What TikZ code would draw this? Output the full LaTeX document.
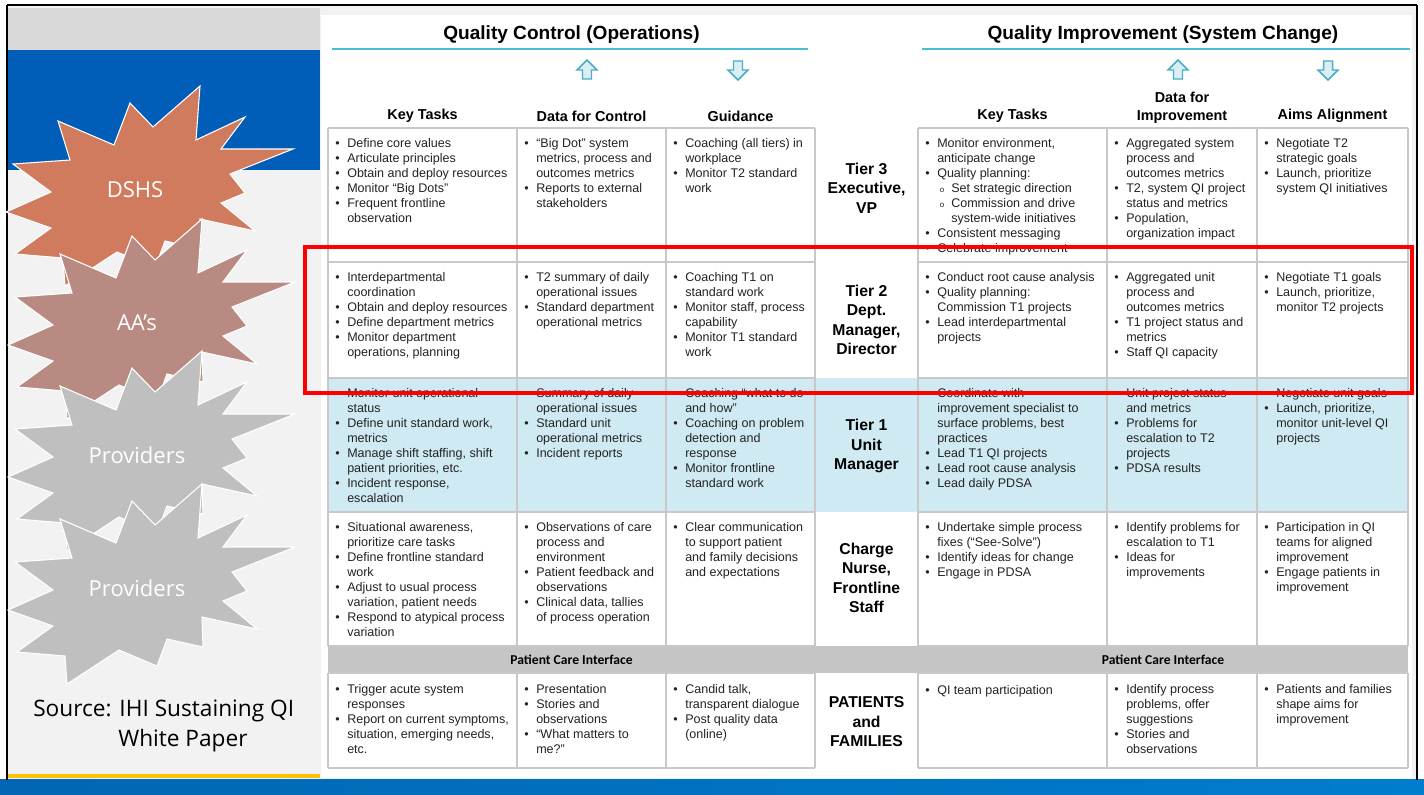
\documentclass[tikz,border=0pt]{standalone}
\usepackage{fontspec}
\setmainfont{Liberation Sans}
\newfontfamily\osans{Open Sans}
\newfontfamily\carl{Carlito}
\definecolor{dshs}{RGB}{208,123,93}
\definecolor{aas}{RGB}{185,138,130}
\definecolor{prov}{RGB}{191,191,191}
\definecolor{slideblue}{RGB}{0,94,184}
\definecolor{gridgray}{RGB}{200,200,200}
\definecolor{rowblue}{RGB}{207,234,242}
\definecolor{bandgray}{RGB}{197,197,197}
\definecolor{lineblue}{RGB}{75,190,215}
\definecolor{arrowfill}{RGB}{219,238,244}
\definecolor{arrowline}{RGB}{75,172,198}
\definecolor{panelgray}{RGB}{242,242,242}
\definecolor{stripgray}{RGB}{217,217,217}
\definecolor{txtgray}{RGB}{35,35,35}
\definecolor{goldline}{RGB}{255,192,0}
\definecolor{bandA}{RGB}{0,102,180}
\definecolor{bandB}{RGB}{0,125,205}
\newcommand\bul{\makebox[9pt][l]{\textbullet}}
\newcommand\cnt{\hspace*{9pt}}
\newcommand\sbul{\hspace*{9pt}\makebox[10.5pt][l]{\hspace{2pt}\fontsize{6}{6}\selectfont o}}
\newcommand\scnt{\hspace*{19.5pt}}
\tikzset{
  cell/.style={anchor=north west, inner sep=0pt, align=left, font=\fontsize{9.4}{11.25}\selectfont, text=txtgray, execute at begin node=\strut},
  lbl/.style={align=center, inner sep=0pt, font=\fontsize{11.8}{14.6}\selectfont\bfseries, text=black},
  hdr/.style={align=center, inner sep=0pt, font=\fontsize{10.8}{13.2}\selectfont\bfseries, text=black},
  ttl/.style={inner sep=0pt, font=\fontsize{14.3}{16}\selectfont\bfseries, text=black},
  pci/.style={inner sep=0pt, font=\carl\fontsize{10.2}{12}\selectfont\bfseries, text=black},
  grid/.style={draw=gridgray, line width=1.1pt},
  burstlbl/.style={inner sep=0pt, font=\osans\fontsize{16.5}{19}\selectfont, text=white},
  pics/burst/.style={code={
    \filldraw[fill=#1, draw=white, line width=0.8pt]
      (-122,-26) -- (-65,-30) -- (-77,-69) -- (-21,-45) -- (-5,-87) -- (18,-63)
      -- (65,-104) -- (61,-50) -- (110,-73) -- (86,-41) -- (158,-41) -- (95,-16)
      -- (110,3) -- (86,13) -- (120,41) -- (65,29) -- (66,59) -- (30,51)
      -- (20,78) -- (-18,62) -- (-70,96) -- (-72,68) -- (-120,64) -- (-84,38)
      -- (-129,22) -- (-84,2) -- cycle;}},
  pics/uparrow/.style={code={
    \filldraw[fill=arrowfill, draw=arrowline, line width=1.1pt, line join=miter]
      (0,-10) -- (10,0) -- (4.5,0) -- (4.5,9) -- (-4.5,9) -- (-4.5,0) -- (-10,0) -- cycle;}},
  pics/downarrow/.style={code={
    \filldraw[fill=arrowfill, draw=arrowline, line width=1.1pt, line join=miter]
      (0,10) -- (10,0) -- (4.5,0) -- (4.5,-9) -- (-4.5,-9) -- (-4.5,0) -- (-10,0) -- cycle;}}
}
\begin{document}
\begin{tikzpicture}[x=0.75pt,y=-0.75pt]
\useasboundingbox (0,0) rectangle (1424,795);
% backgrounds
\fill[white] (0,0) rectangle (1424,795);
\fill[panelgray] (7,5) rectangle (1417,780);
\fill[stripgray] (7,8) rectangle (320,50);
\fill[slideblue] (7,50) rectangle (320,170);
\fill[goldline] (7,774) rectangle (320,778);
\fill[white] (321,15) rectangle (1412,778);
\shade[left color=bandA, right color=bandB] (0,779) rectangle (1424,795);
\draw[black, line width=0.8pt] (7,5) -- (7,780) (1417,5) -- (1417,780) (7,5) -- (1417,5);

% starbursts
\pic at (135,190) {burst=dshs};
\node[burstlbl] (dshs) at (135,190) {DSHS};
\pic at (137,323) {burst=aas};
\node[burstlbl] (aas) at (137,323) {AA’s};
\pic at (137,455) {burst=prov};
\node[burstlbl] (prova) at (137,455) {Providers};
\pic at (137,588) {burst=prov};
\node[burstlbl] (provb) at (137,588) {Providers};
\node[anchor=base west, inner sep=0pt, font=\osans\fontsize{17}{20}\selectfont] (srca) at (33,716) {Source: IHI Sustaining QI};
\node[anchor=base west, inner sep=0pt, font=\osans\fontsize{17}{20}\selectfont] (srcb) at (118,746) {White Paper};

% titles
\node[ttl] (qc) at (571.5,35) {Quality Control (Operations)};
\node[ttl] (qi) at (1163,35) {Quality Improvement (System Change)};
\draw[lineblue, line width=1.5pt] (332,49) -- (808,49);
\draw[lineblue, line width=1.5pt] (922,49) -- (1410,49);
\pic at (587,70) {uparrow};
\pic at (738,70) {downarrow};
\pic at (1178,70) {uparrow};
\pic at (1328,70) {downarrow};

% column headers
\node[hdr] (hkt) at (422.5,116) {Key Tasks};
\node[hdr] (hdc) at (591.5,116) {Data for Control};
\node[hdr] (hg) at (740.5,116) {Guidance};
\node[hdr] (hkt2) at (1012.5,116) {Key Tasks};
\node[hdr] (hdi) at (1182,107.5) {Data for\\Improvement};
\node[hdr] (haa) at (1332.5,116) {Aims Alignment};

% fills
\fill[rowblue] (328,378) rectangle (1408,512);
\fill[bandgray] (328,646) rectangle (1408,673);

% grid
\foreach \y in {128,262,378,512,646,673,768}{
  \draw[grid] (328,\y) -- (815,\y);
  \draw[grid] (918,\y) -- (1408,\y);
}
\foreach \x in {328,517,666,815,918,1107,1257,1408}{
  \draw[grid] (\x,128) -- (\x,646);
  \draw[grid] (\x,673) -- (\x,768);
}

% Tier 3
\node[cell] (t3a) at (335,138.5) {\bul Define core values\\\bul Articulate principles\\\bul Obtain and deploy resources\\\bul Monitor “Big Dots”\\\bul Frequent frontline\\\cnt observation};
\node[cell] (t3b) at (524,138.5) {\bul “Big Dot” system\\\cnt metrics, process and\\\cnt outcomes metrics\\\bul Reports to external\\\cnt stakeholders};
\node[cell] (t3c) at (673,138.5) {\bul Coaching (all tiers) in\\\cnt workplace\\\bul Monitor T2 standard\\\cnt work};
\node[lbl] (t3l) at (866.5,188) {Tier 3\\Executive,\\VP};
\node[cell] (t3d) at (925,138.5) {\bul Monitor environment,\\\cnt anticipate change\\\bul Quality planning:\\\sbul Set strategic direction\\\sbul Commission and drive\\\scnt system-wide initiatives\\\bul Consistent messaging\\\bul Celebrate improvement};
\node[cell] (t3e) at (1114,138.5) {\bul Aggregated system\\\cnt process and\\\cnt outcomes metrics\\\bul T2, system QI project\\\cnt status and metrics\\\bul Population,\\\cnt organization impact};
\node[cell] (t3f) at (1264,138.5) {\bul Negotiate T2\\\cnt strategic goals\\\bul Launch, prioritize\\\cnt system QI initiatives};

% Tier 2
\node[cell] (t2a) at (335,272.5) {\bul Interdepartmental\\\cnt coordination\\\bul Obtain and deploy resources\\\bul Define department metrics\\\bul Monitor department\\\cnt operations, planning};
\node[cell] (t2b) at (524,272.5) {\bul T2 summary of daily\\\cnt operational issues\\\bul Standard department\\\cnt operational metrics};
\node[cell] (t2c) at (673,272.5) {\bul Coaching T1 on\\\cnt standard work\\\bul Monitor staff, process\\\cnt capability\\\bul Monitor T1 standard\\\cnt work};
\node[lbl] (t2l) at (866.5,320) {Tier 2\\Dept.\\Manager,\\Director};
\node[cell] (t2d) at (925,272.5) {\bul Conduct root cause analysis\\\bul Quality planning:\\\cnt Commission T1 projects\\\bul Lead interdepartmental\\\cnt projects};
\node[cell] (t2e) at (1114,272.5) {\bul Aggregated unit\\\cnt process and\\\cnt outcomes metrics\\\bul T1 project status and\\\cnt metrics\\\bul Staff QI capacity};
\node[cell] (t2f) at (1264,272.5) {\bul Negotiate T1 goals\\\bul Launch, prioritize,\\\cnt monitor T2 projects};

% Tier 1
\node[cell] (t1a) at (335,388) {\bul Monitor unit operational\\\cnt status\\\bul Define unit standard work,\\\cnt metrics\\\bul Manage shift staffing, shift\\\cnt patient priorities, etc.\\\bul Incident response,\\\cnt escalation};
\node[cell] (t1b) at (524,388) {\bul Summary of daily\\\cnt operational issues\\\bul Standard unit\\\cnt operational metrics\\\bul Incident reports};
\node[cell] (t1c) at (673,388) {\bul Coaching “what to do\\\cnt and how”\\\bul Coaching on problem\\\cnt detection and\\\cnt response\\\bul Monitor frontline\\\cnt standard work};
\node[lbl] (t1l) at (866.5,446) {Tier 1\\Unit\\Manager};
\node[cell] (t1d) at (925,388) {\bul Coordinate with\\\cnt improvement specialist to\\\cnt surface problems, best\\\cnt practices\\\bul Lead T1 QI projects\\\bul Lead root cause analysis\\\bul Lead daily PDSA};
\node[cell] (t1e) at (1114,388) {\bul Unit project status\\\cnt and metrics\\\bul Problems for\\\cnt escalation to T2\\\cnt projects\\\bul PDSA results};
\node[cell] (t1f) at (1264,388) {\bul Negotiate unit goals\\\bul Launch, prioritize,\\\cnt monitor unit-level QI\\\cnt projects};

% Charge nurse
\node[cell] (t0a) at (335,522) {\bul Situational awareness,\\\cnt prioritize care tasks\\\bul Define frontline standard\\\cnt work\\\bul Adjust to usual process\\\cnt variation, patient needs\\\bul Respond to atypical process\\\cnt variation};
\node[cell] (t0b) at (524,522) {\bul Observations of care\\\cnt process and\\\cnt environment\\\bul Patient feedback and\\\cnt observations\\\bul Clinical data, tallies\\\cnt of process operation};
\node[cell] (t0c) at (673,522) {\bul Clear communication\\\cnt to support patient\\\cnt and family decisions\\\cnt and expectations};
\node[lbl] (t0l) at (866.5,578) {Charge\\Nurse,\\Frontline\\Staff};
\node[cell] (t0d) at (925,522) {\bul Undertake simple process\\\cnt fixes (“See-Solve”)\\\bul Identify ideas for change\\\bul Engage in PDSA};
\node[cell] (t0e) at (1114,522) {\bul Identify problems for\\\cnt escalation to T1\\\bul Ideas for\\\cnt improvements};
\node[cell] (t0f) at (1264,522) {\bul Participation in QI\\\cnt teams for aligned\\\cnt improvement\\\bul Engage patients in\\\cnt improvement};

% Patient care interface
\node[pci] (pcia) at (571.5,660) {Patient Care Interface};
\node[pci] (pcib) at (1163,660) {Patient Care Interface};

% Patients
\node[cell] (pfa) at (335,684) {\bul Trigger acute system\\\cnt responses\\\bul Report on current symptoms,\\\cnt situation, emerging needs,\\\cnt etc.};
\node[cell] (pfb) at (524,684) {\bul Presentation\\\bul Stories and\\\cnt observations\\\bul “What matters to\\\cnt me?”};
\node[cell] (pfc) at (673,684) {\bul Candid talk,\\\cnt transparent dialogue\\\bul Post quality data\\\cnt (online)};
\node[lbl] (pfl) at (866.5,722) {PATIENTS\\and\\FAMILIES};
\node[cell] (pfd) at (925,684) {\bul QI team participation};
\node[cell] (pfe) at (1114,684) {\bul Identify process\\\cnt problems, offer\\\cnt suggestions\\\bul Stories and\\\cnt observations};
\node[cell] (pff) at (1264,684) {\bul Patients and families\\\cnt shape aims for\\\cnt improvement};

% red highlight
\draw[red, line width=3pt] (305,247) rectangle (1412,393);
\end{tikzpicture}
\end{document}
